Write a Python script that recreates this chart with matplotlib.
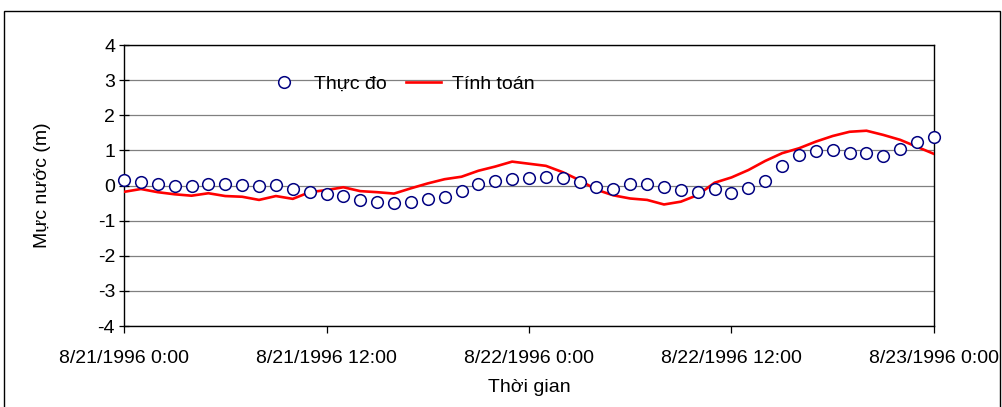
"""Water level at the station: measured vs. computed, 21-23 Aug 1996."""

import matplotlib
matplotlib.use('Agg')
import matplotlib.pyplot as plt
import matplotlib.dates as mdates
from matplotlib.patches import Rectangle
from matplotlib.ticker import FuncFormatter
import pandas as pd

plt.rcParams['font.family'] = ['Liberation Sans', 'DejaVu Sans']
plt.rcParams['axes.unicode_minus'] = False

# hourly series, 8/21/1996 0:00 .. 8/23/1996 0:00
times = pd.date_range('1996-08-21 00:00', '1996-08-23 00:00', freq='h')

# measured water level (m)
measured = [0.16, 0.09, 0.03, 0.00, 0.00, 0.04, 0.04, 0.01, 0.00, 0.01,
            -0.11, -0.19, -0.25, -0.30, -0.41, -0.48, -0.51, -0.48, -0.39, -0.34,
            -0.15, 0.04, 0.14, 0.18, 0.20, 0.25, 0.20, 0.09, -0.05, -0.11,
            0.03, 0.03, -0.04, -0.14, -0.19, -0.11, -0.22, -0.08, 0.12, 0.56,
            0.88, 0.99, 1.02, 0.92, 0.92, 0.84, 1.05, 1.25, 1.39]

# computed water level (m)
computed = [-0.18, -0.10, -0.19, -0.25, -0.29, -0.22, -0.30, -0.32, -0.41, -0.30,
            -0.38, -0.19, -0.13, -0.05, -0.16, -0.19, -0.23, -0.08, 0.06, 0.18,
            0.25, 0.42, 0.54, 0.68, 0.62, 0.56, 0.38, 0.15, -0.12, -0.28,
            -0.37, -0.41, -0.54, -0.46, -0.27, 0.08, 0.23, 0.44, 0.70, 0.92,
            1.06, 1.25, 1.41, 1.53, 1.56, 1.44, 1.30, 1.10, 0.90]

labels = ['Thực đo', 'Tính toán']
y_ticks = list(range(-4, 5))

fig = plt.figure(figsize=(10.02, 4.07), dpi=100)
ax = fig.add_axes([0.1238, 0.199, 0.8083, 0.6904])

ax.plot(times, measured, 'o', ms=8.4, mfc='white', mec='#000080', mew=1.1,
        label=labels[0], zorder=4, clip_on=False)
ax.plot(times, computed, '-', color='#ff0000', lw=1.9, label=labels[1], zorder=3)

ax.set_xlim(times[0], times[-1])
ax.set_ylim(-4, 4)
ax.set_yticks(y_ticks)
ax.xaxis.set_major_locator(mdates.HourLocator(byhour=[0, 12]))


def fmt_time(x, pos):
    d = mdates.num2date(x)
    return f'{d.month}/{d.day}/{d.year} {d.hour}:{d.minute:02d}'


ax.xaxis.set_major_formatter(FuncFormatter(fmt_time))

ax.grid(axis='y', color='#808080', lw=0.9)
ax.set_axisbelow(True)
for sp in ax.spines.values():
    sp.set_color('black')
    sp.set_linewidth(1.0)

ax.tick_params(axis='y', direction='inout', length=7, width=0.9, labelsize=14, pad=3)
ax.tick_params(axis='x', direction='out', length=5, width=0.9, labelsize=14, pad=12)

ax.set_ylabel('Mực nước (m)', fontsize=14)
ax.yaxis.set_label_coords(-0.09, 0.5)
ax.set_xlabel('Thời gian', fontsize=14)
ax.xaxis.set_label_coords(0.5, -0.19)

ax.legend(loc='center', bbox_to_anchor=(0.342, 0.86), ncol=2, frameon=False,
          fontsize=14, handlelength=1.8, handletextpad=0.6, columnspacing=1.0)

# outer chart border
fig.add_artist(Rectangle((4 / 1002, -0.1), 996 / 1002, 1.1 - 11 / 407,
                         transform=fig.transFigure, fill=False, lw=1.0,
                         edgecolor='black'))

fig.savefig('out.png', dpi=100)
